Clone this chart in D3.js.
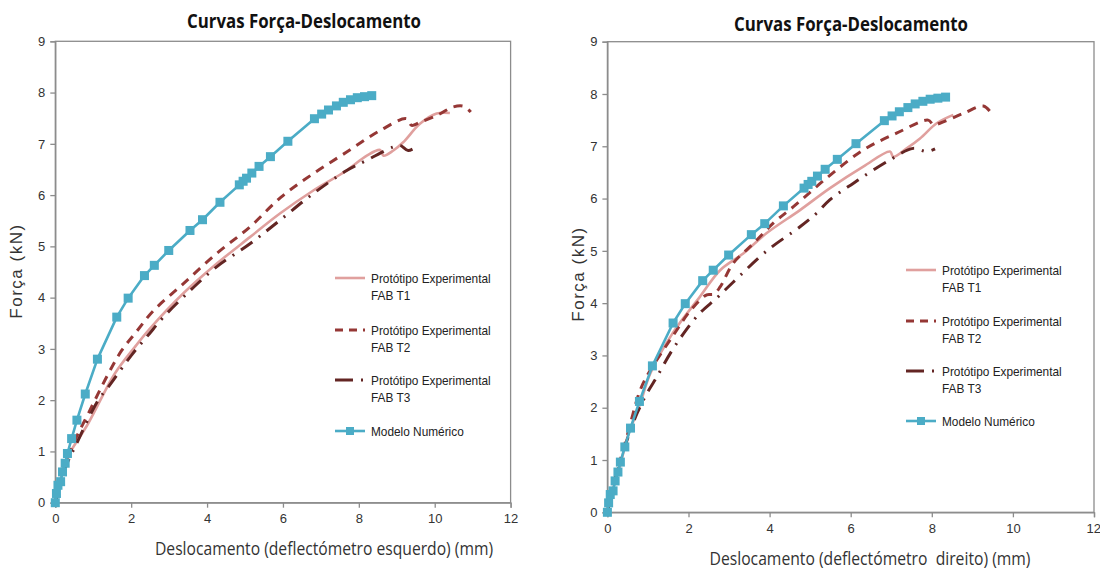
<!DOCTYPE html>
<html>
<head>
<meta charset="utf-8">
<script src="https://cdn.jsdelivr.net/npm/d3@7"></script>
<style>
  body { margin: 0; background: #fff; }
  svg { display: block; }
</style>
</head>
<body>
<div id="vizArea"></div>
<script>
var w = 1100
var h = 570

// DATA ********************************
var xTicks = [0, 2, 4, 6, 8, 10, 12]
var yTicks = [0, 1, 2, 3, 4, 5, 6, 7, 8, 9]
var chartTitle = "Curvas Força-Deslocamento"
var yTitle = "Força (kN)"
var xTitles = ["Deslocamento (deflectómetro esquerdo) (mm)", "Deslocamento (deflectómetro  direito) (mm)"]
var seriesNames = [["Protótipo Experimental", "FAB T1"], ["Protótipo Experimental", "FAB T2"],
                   ["Protótipo Experimental", "FAB T3"], ["Modelo Numérico"]]

// numerical model, same in both panels
var modelo = [[0,0],[0.03,0.18],[0.07,0.34],[0.14,0.41],[0.19,0.6],[0.26,0.77],[0.32,0.96],
  [0.43,1.25],[0.57,1.61],[0.79,2.12],[1.11,2.8],[1.62,3.62],[1.92,3.99],[2.35,4.43],
  [2.61,4.63],[2.99,4.92],[3.55,5.31],[3.88,5.52],[4.34,5.86],[4.85,6.2],[4.95,6.27],
  [5.04,6.33],[5.18,6.43],[5.37,6.56],[5.67,6.75],[6.13,7.05],[6.83,7.49],[7.02,7.58],
  [7.2,7.66],[7.41,7.74],[7.59,7.81],[7.78,7.86],[7.96,7.9],[8.15,7.92],[8.34,7.94]]

// left deflectometer
var leftT1 = [[0,0],[0.1,0.3],[0.26,0.8],[0.87,1.55],[1.57,2.52],[2.1,3.04],[2.5,3.4],
  [3.37,4.08],[4.25,4.66],[5.13,5.18],[5.92,5.64],[6.8,6.09],[7.68,6.48],[8.21,6.77],
  [8.56,6.88],[8.65,6.77],[8.91,6.87],[9.17,7.03],[9.61,7.39],[10.05,7.59],[10.4,7.6]]
var leftT2 = [[0,0],[0.1,0.3],[0.3,0.8],[0.52,1.22],[0.87,1.74],[1.4,2.52],[1.75,2.97],
  [2.1,3.3],[2.58,3.74],[3.37,4.27],[4.25,4.86],[5.13,5.38],[5.95,5.96],[6.8,6.42],
  [7.68,6.84],[8.56,7.26],[9.26,7.49],[9.39,7.36],[9.61,7.42],[10.05,7.55],[10.49,7.72],
  [10.77,7.73],[10.95,7.62]]
var leftT3 = [[0,0],[0.1,0.3],[0.3,0.75],[0.52,1.09],[1.13,2.0],[1.4,2.26],[2.01,2.88],
  [2.45,3.27],[2.85,3.62],[3.5,4.1],[4.25,4.6],[5.13,5.05],[5.92,5.51],[6.8,6.03],
  [7.68,6.48],[8.21,6.68],[8.91,6.94],[9.09,6.97],[9.3,6.87],[9.53,6.95]]

// right deflectometer
var rightT1 = [[0,0],[0.1,0.35],[0.3,0.85],[0.5,1.45],[0.81,2.08],[1.06,2.66],[1.63,3.45],
  [2.28,4.12],[2.78,4.63],[3.35,4.95],[3.93,5.34],[4.75,5.78],[5.49,6.2],[6.31,6.61],
  [6.97,6.9],[7.05,6.8],[7.38,6.96],[7.71,7.15],[8.12,7.44],[8.53,7.6]]
var rightT2 = [[0,0],[0.1,0.4],[0.3,0.95],[0.5,1.5],[0.81,2.34],[1.06,2.72],[1.63,3.39],
  [2.06,3.87],[2.45,4.16],[2.62,4.17],[2.78,4.31],[3.1,4.76],[3.6,5.14],[4.09,5.53],
  [4.58,5.84],[5.45,6.42],[6.31,6.93],[7.13,7.25],[7.91,7.5],[8.04,7.41],[8.2,7.44],
  [8.78,7.63],[9.27,7.77],[9.44,7.66]]
var rightT3 = [[0,0],[0.2,0.65],[0.45,1.3],[0.73,1.89],[0.98,2.28],[1.22,2.59],[1.55,3.04],
  [1.88,3.42],[2.28,3.81],[2.7,4.1],[3.1,4.4],[3.93,5.0],[4.75,5.46],[5.16,5.72],
  [5.49,5.98],[6.06,6.29],[6.31,6.42],[6.97,6.74],[7.54,6.96],[7.87,6.9],[8.08,6.95]]

// STYLES ********************************
var styles = [
  {color: "#e0a09e", dash: null, width: 2.6},
  {color: "#953735", dash: "9,7", width: 3},
  {color: "#632523", dash: "14,8,2,8", width: 3},
  {color: "#4bacc6", dash: null, width: 2.6}
]

// PANEL LAYOUT ********************************
var panels = [
  {x0: 55.3, x1: 510.6, y0: 502.7, y1: 41.3, titleX: 304, titleY: 28, xTitleX: 324, xTitleY: 555,
   yTitleX: 22, yTitleY: 271, legX: 335, legY: [278, 330, 380, 431], xTitle: xTitles[0], xTitleW: 338,
   series: [leftT1, leftT2, leftT3, modelo]},
  {x0: 607.4, x1: 1094, y0: 512.3, y1: 41.7, titleX: 851, titleY: 31, xTitleX: 870, xTitleY: 565,
   yTitleX: 584, yTitleY: 274, legX: 906, legY: [270, 321, 371, 421], xTitle: xTitles[1], xTitleW: 321,
   series: [rightT1, rightT2, rightT3, modelo]}
]

var svg = d3.select("#vizArea").append("svg")
  .attr("width", w).attr("height", h)
  .style("font-family", "'Liberation Sans', Arial, sans-serif")

panels.forEach(function(p, pi) {
  var g = svg.append("g")
  var x = d3.scaleLinear().domain([0, 12]).range([p.x0, p.x1])
  var y = d3.scaleLinear().domain([0, 9]).range([p.y0, p.y1])

  // plot frame
  g.append("rect")
    .attr("x", p.x0).attr("y", p.y1)
    .attr("width", p.x1 - p.x0).attr("height", p.y0 - p.y1)
    .attr("fill", "none").attr("stroke", "#8c8c8c").attr("stroke-width", 1.3)

  // axes
  var xAxis = g.append("g").attr("transform", "translate(0," + p.y0 + ")")
    .call(d3.axisBottom(x).tickValues(xTicks).tickSize(5).tickPadding(6))
  var yAxis = g.append("g").attr("transform", "translate(" + p.x0 + ",0)")
    .call(d3.axisLeft(y).tickValues(yTicks).tickSize(5).tickPadding(5))
  ;[xAxis, yAxis].forEach(function(a) {
    a.select(".domain").attr("stroke", "#8c8c8c").attr("stroke-width", 1.3)
    a.selectAll(".tick line").attr("stroke", "#8c8c8c").attr("stroke-width", 1.3)
    a.selectAll(".tick text").attr("fill", "#333").style("font-size", "13px")
  })
  // keep the last label of the right panel inside the page
  if (pi === 1) {
    xAxis.selectAll(".tick text").filter(function(d){ return d === 12 })
      .attr("text-anchor", "end").attr("dx", "0.5em")
  }

  // titles
  g.append("text").attr("x", p.titleX).attr("y", p.titleY)
    .attr("text-anchor", "middle").attr("fill", "#111")
    .style("font-family", "'Open Sans', sans-serif")
    .style("font-weight", "bold").style("font-size", "20px")
    .attr("textLength", 234).attr("lengthAdjust", "spacingAndGlyphs")
    .text(chartTitle)

  g.append("text").attr("x", p.xTitleX).attr("y", p.xTitleY)
    .attr("text-anchor", "middle").attr("fill", "#333")
    .style("font-family", "'Open Sans', sans-serif")
    .style("font-size", "18px").style("white-space", "pre")
    .attr("textLength", p.xTitleW).attr("lengthAdjust", "spacingAndGlyphs")
    .text(p.xTitle)

  g.append("text")
    .attr("transform", "translate(" + p.yTitleX + "," + p.yTitleY + ") rotate(-90)")
    .attr("text-anchor", "middle").attr("fill", "#333")
    .style("font-size", "17px").style("letter-spacing", "1.5px")
    .text(yTitle)

  // series lines
  var expLine = d3.line().x(function(d){ return x(d[0]) }).y(function(d){ return y(d[1]) })
    .curve(d3.curveCatmullRom.alpha(0.5))
  var modLine = d3.line().x(function(d){ return x(d[0]) }).y(function(d){ return y(d[1]) })

  p.series.forEach(function(data, i) {
    var s = styles[i]
    g.append("path").datum(data)
      .attr("d", i < 3 ? expLine : modLine)
      .attr("fill", "none").attr("stroke", s.color)
      .attr("stroke-width", s.width)
      .attr("stroke-dasharray", s.dash)
      .attr("stroke-linejoin", "round")
  })

  // model markers
  g.selectAll("rect.mk").data(modelo).enter().append("rect")
    .attr("class", "mk")
    .attr("x", function(d){ return x(d[0]) - 4.5 })
    .attr("y", function(d){ return y(d[1]) - 4.5 })
    .attr("width", 9).attr("height", 9)
    .attr("fill", styles[3].color)

  // legend
  seriesNames.forEach(function(name, i) {
    var s = styles[i]
    var ly = p.legY[i]
    var lg = g.append("g")
    if (i === 2) {
      lg.append("line").attr("x1", p.legX).attr("x2", p.legX + 18).attr("y1", ly).attr("y2", ly)
        .attr("stroke", s.color).attr("stroke-width", 3)
      lg.append("line").attr("x1", p.legX + 26).attr("x2", p.legX + 28).attr("y1", ly).attr("y2", ly)
        .attr("stroke", s.color).attr("stroke-width", 3)
    } else {
      lg.append("line").attr("x1", p.legX).attr("x2", p.legX + 30).attr("y1", ly).attr("y2", ly)
        .attr("stroke", s.color).attr("stroke-width", s.width)
        .attr("stroke-dasharray", i === 1 ? "8,6" : null)
    }
    if (i === 3) {
      lg.append("rect").attr("x", p.legX + 11).attr("y", ly - 4).attr("width", 8).attr("height", 8)
        .attr("fill", s.color)
    }
    name.forEach(function(t, k) {
      var tx = lg.append("text").attr("x", p.legX + 36).attr("y", ly + k * 17.5)
        .attr("dy", "0.35em").attr("fill", "#222")
        .style("font-size", "13px")
        .text(t)
      // the reference uses a narrower face: squeeze a little
      var len = tx.node().getComputedTextLength()
      tx.attr("textLength", len * 0.91).attr("lengthAdjust", "spacingAndGlyphs")
    })
  })
})
</script>
</body>
</html>
